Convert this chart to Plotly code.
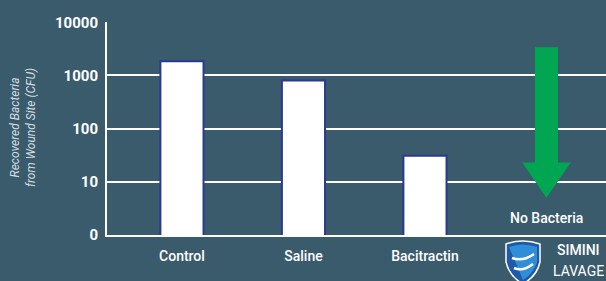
import plotly.graph_objects as go

categories = ["Control", "Saline", "Bacitractin", "No Bacteria"]
cfu_values = [1850, 800, 31, None]
tick_vals = [1, 10, 100, 1000, 10000]
tick_text = ["0", "10", "100", "1000", "10000"]

BG = "#395b6c"
W, H = 606, 281
ML, MR, MT, MB = 107, 0, 22, 46
PW, PH = W - ML - MR, H - MT - MB

def px(x):
    return (x - ML) / PW

def py(y):
    return (H - MB - y) / PH

fig = go.Figure()
fig.add_trace(go.Bar(
    x=list(range(len(categories))), y=cfu_values, width=0.355,
    marker=dict(color="white", line=dict(color="#2b3990", width=2)),
    hoverinfo="skip",
))

# Green arrow for "No Bacteria" (category index 3), in data coordinates
arrow_x = 3
shaft_hw, head_hw = 0.095, 0.2
arrow_top, head_start, arrow_tip = 3400, 23, 5
fig.add_trace(go.Scatter(
    x=[arrow_x - shaft_hw, arrow_x + shaft_hw, arrow_x + shaft_hw, arrow_x + head_hw,
       arrow_x, arrow_x - head_hw, arrow_x - shaft_hw, arrow_x - shaft_hw],
    y=[arrow_top, arrow_top, head_start, head_start, arrow_tip, head_start, head_start, arrow_top],
    mode="lines", fill="toself", fillcolor="#00a651", line=dict(width=0),
    hoverinfo="skip",
))

fig.update_layout(
    width=W, height=H,
    margin=dict(l=ML, r=MR, t=MT, b=MB),
    paper_bgcolor=BG, plot_bgcolor=BG,
    showlegend=False,
    font=dict(family="Roboto", color="white"),
    xaxis=dict(
        range=[-0.617, 3.49], tickmode="array", tickvals=[0, 1, 2],
        ticktext=categories[:3], showgrid=False, zeroline=False,
        showline=True, linecolor="white", linewidth=2, ticks="",
        ticklabelstandoff=7,
        tickfont=dict(size=14, color="white", weight=500),
    ),
    yaxis=dict(
        type="log", range=[0, 4.005], tickmode="array",
        tickvals=tick_vals, ticktext=tick_text,
        showgrid=True, gridcolor="white", gridwidth=2,
        showline=True, linecolor="white", linewidth=2, ticks="",
        zeroline=False, ticklabelstandoff=4,
        tickfont=dict(size=15, color="white", weight="bold"),
    ),
)

fig.add_annotation(
    xref="paper", yref="paper", x=px(23), y=py(128),
    text="<i>Recovered Bacteria<br>from Wound Site (CFU)</i>",
    textangle=-90, showarrow=False, xanchor="center", yanchor="middle",
    font=dict(size=12, color="#d5dde2"),
)
fig.add_annotation(
    xref="x", yref="paper", x=3, y=py(218),
    text="No Bacteria", showarrow=False, xanchor="center", yanchor="middle",
    font=dict(size=14, color="white", weight=500),
)

# Logo: shield + text
shield = (f"M {px(506)},{py(244)} Q {px(523)},{py(238)} {px(540)},{py(244)} "
          f"L {px(540)},{py(262)} Q {px(537)},{py(276)} {px(523)},{py(284)} "
          f"Q {px(509)},{py(276)} {px(506)},{py(262)} Z")
fig.add_shape(type="path", xref="paper", yref="paper", path=shield,
              fillcolor="#1f5aa8", line=dict(color="white", width=1.5), layer="above")
inner = (f"M {px(509)},{py(247)} Q {px(523)},{py(242)} {px(537)},{py(247)} "
         f"L {px(537)},{py(262)} Q {px(534)},{py(273)} {px(523)},{py(280)} Z")
fig.add_shape(type="path", xref="paper", yref="paper", path=inner,
              fillcolor="#2f8fd6", line=dict(width=0), layer="above")
hands = (f"M {px(512)},{py(258)} Q {px(523)},{py(262)} {px(534)},{py(254)} "
         f"M {px(514)},{py(268)} Q {px(523)},{py(272)} {px(533)},{py(264)}")
fig.add_shape(type="path", xref="paper", yref="paper", path=hands,
              line=dict(color="white", width=2.5), layer="above")
fig.add_annotation(xref="paper", yref="paper", x=px(578), y=py(250),
                   text="SIMINI", showarrow=False, xanchor="center", yanchor="middle",
                   font=dict(size=14, color="white", weight=500))
fig.add_annotation(xref="paper", yref="paper", x=px(578), y=py(271),
                   text="LAVAGE", showarrow=False, xanchor="center", yanchor="middle",
                   font=dict(size=14, color="white"))

fig.write_html(
    "out.html",
    config={"displayModeBar": False},
    post_script=f"document.body.style.margin='0';document.body.style.overflow='hidden';"
                f"document.body.style.background='{BG}';",
)
